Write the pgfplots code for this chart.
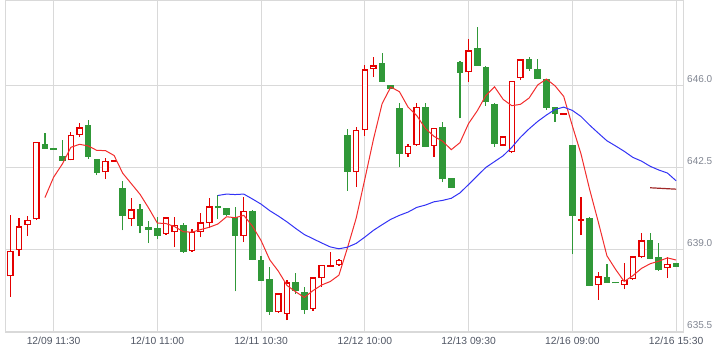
\documentclass[border=0pt]{standalone}
\usepackage{pgfplots}
\pgfplotsset{compat=1.18}
\usepackage{pgfplotstable}
\usepackage{fontspec}
\setmainfont{Liberation Sans}

\definecolor{upred}{RGB}{228,0,0}
\definecolor{dngreen}{RGB}{48,152,56}
\definecolor{mared}{RGB}{242,45,45}
\definecolor{mablue}{RGB}{50,50,245}
\definecolor{madark}{RGB}{160,40,40}
\definecolor{gridc}{RGB}{217,217,217}
\definecolor{ylab}{RGB}{128,133,145}
\definecolor{xlab}{RGB}{80,86,100}

% up candles (close > open): x open high low close
\pgfplotstableread{
x o h l c
0 637.84 640.47 636.97 638.93
1 638.96 640.33 638.70 639.98
2 640.03 640.41 639.56 640.27
3 640.28 643.60 640.26 643.58
7 642.81 644.01 642.80 643.88
8 643.88 644.39 643.79 644.22
11 642.29 642.92 642.01 642.77
12 642.74 642.80 642.74 642.80
14 640.30 641.18 639.98 640.71
18 639.64 640.39 639.62 640.37
19 639.73 640.37 639.09 640.04
21 638.91 639.86 638.90 639.75
22 639.73 640.54 639.51 640.15
23 640.11 641.18 639.91 640.84
27 639.56 641.25 639.31 640.63
31 636.30 637.14 636.28 637.12
32 636.22 637.67 635.97 637.59
35 636.43 637.82 636.36 637.80
36 637.76 638.34 637.39 638.32
37 638.26 638.87 638.26 638.34
38 638.32 638.58 638.30 638.56
40 642.29 644.22 641.68 644.10
41 644.09 646.89 643.86 646.70
42 646.71 647.22 646.36 646.87
46 643.06 643.50 642.95 643.41
47 643.45 645.25 643.43 645.08
49 643.41 644.20 642.96 644.18
53 646.57 647.99 646.15 647.51
57 643.43 643.85 643.41 643.83
58 643.15 646.21 643.13 646.19
59 646.32 647.15 646.23 647.13
64 644.76 644.84 644.76 644.84
66 640.22 641.22 639.60 640.31
68 637.46 638.02 636.83 637.84
71 637.46 638.40 637.29 637.69
72 637.72 638.72 637.70 638.70
73 638.66 639.71 638.64 639.38
76 638.19 638.68 637.76 638.38
}\uptab

% down candles (close < open)
\pgfplotstableread{
x o h l c
4 643.51 643.96 643.28 643.30
5 643.33 643.33 643.26 643.26
6 642.99 643.68 642.77 642.79
9 644.32 644.52 642.88 642.96
10 642.86 642.88 642.17 642.28
13 641.62 641.91 639.81 640.44
15 640.72 640.93 639.68 640.01
16 639.95 640.21 639.26 639.84
17 639.91 640.40 639.43 639.58
20 640.04 640.11 638.85 638.90
24 640.85 641.32 640.30 640.75
25 640.77 640.77 640.43 640.45
26 640.37 640.80 637.20 639.58
28 640.64 640.66 638.53 638.55
29 638.54 638.70 637.64 637.66
30 637.73 638.23 636.19 636.33
33 637.59 637.97 637.10 637.22
34 637.16 637.37 636.22 636.42
39 643.88 644.13 641.51 642.32
43 646.96 647.39 646.15 646.17
44 646.03 646.03 645.87 645.87
45 645.03 645.25 642.53 643.09
48 645.08 645.25 643.37 643.39
50 644.22 644.46 641.87 642.02
51 642.05 642.05 641.64 641.64
52 647.01 647.05 644.60 646.56
54 647.60 648.50 646.84 646.86
55 646.80 646.82 645.14 645.32
56 645.22 645.24 643.39 643.51
60 647.13 647.24 646.63 646.71
61 646.71 647.13 646.28 646.30
62 646.27 646.29 644.96 645.05
63 645.08 645.10 644.46 644.78
65 643.46 643.48 638.79 640.44
67 640.34 640.40 637.44 637.44
69 637.81 638.36 637.57 637.57
70 637.58 637.58 637.54 637.54
74 639.38 639.71 638.58 638.60
75 638.66 639.26 638.08 638.10
77 638.40 638.40 638.26 638.26
}\dntab

\pgfplotsset{candle/.style={draw=none, no markers, forget plot,
  error bars/.cd, y dir=plus, y explicit, error mark=none}}

\begin{document}
\begin{tikzpicture}
\path[use as bounding box] (0,0) rectangle (727bp,358bp);
\begin{axis}[
  at={(5bp,26bp)}, anchor=south west,
  scale only axis, width=678bp, height=331bp,
  xmin=-0.62, xmax=77.8, ymin=635.46, ymax=649.62,
  xtick={5,17,29,41,53,65,77},
  xticklabels={12/09 11:30,12/10 11:00,12/11 10:30,12/12 10:00,12/13 09:30,12/16 09:00,12/16 15:30},
  ytick={635.5,639,642.5,646},
  yticklabel pos=right,
  grid=major,
  major grid style={draw=gridc, line width=1bp},
  axis line style={draw=gridc, line width=1bp},
  major tick length=0pt,
  yticklabel style={font=\fontsize{10bp}{12bp}\selectfont, text=ylab, anchor=south west, inner sep=0pt, xshift=4bp, yshift=2.5bp,
    /pgf/number format/.cd, fixed, fixed zerofill, precision=1, assume math mode=true},
  xticklabel style={font=\fontsize{10.3bp}{12bp}\selectfont, text=xlab, anchor=north, inner sep=0pt, yshift=-4.5bp},
]
% wicks
\addplot[candle, error bar style={draw=upred, line width=1.2bp}]
  table[x=x, y=l, y error plus expr=\thisrow{h}-\thisrow{l}] {\uptab};
\addplot[candle, error bar style={draw=dngreen, line width=1.2bp}]
  table[x=x, y=l, y error plus expr=\thisrow{h}-\thisrow{l}] {\dntab};
% bodies
\addplot[candle, error bar style={draw=upred, line width=6.6bp}]
  table[x=x, y=o, y error plus expr=\thisrow{c}-\thisrow{o}] {\uptab};
\addplot[candle, error bar style={draw=white, line width=4.0bp}]
  table[x=x, y expr=\thisrow{o}+0.056, y error plus expr={max(\thisrow{c}-\thisrow{o}-0.112,0)}] {\uptab};
\addplot[candle, error bar style={draw=dngreen, line width=6.6bp}]
  table[x=x, y=c, y error plus expr=\thisrow{o}-\thisrow{c}] {\dntab};
% moving averages
\addplot[mared, line width=1bp] coordinates {
(4,641.21)(5,642.08)(6,642.64)(7,643.36)(8,643.49)(9,643.42)(10,643.23)(11,643.22)(12,643.01)(13,642.25)(14,641.80)(15,641.35)(16,640.76)(17,640.12)(18,640.10)(19,639.97)(20,639.75)(21,639.73)(22,639.84)(23,639.94)(24,640.08)(25,640.39)(26,640.35)(27,640.45)(28,639.99)(29,639.37)(30,638.55)(31,638.06)(32,637.45)(33,637.18)(34,636.94)(35,637.23)(36,637.47)(37,637.62)(38,637.89)(39,639.07)(40,640.33)(41,642.00)(42,643.71)(43,645.23)(44,645.94)(45,645.74)(46,645.08)(47,644.72)(48,644.17)(49,643.83)(50,643.62)(51,643.26)(52,643.56)(53,644.38)(54,644.92)(55,645.58)(56,645.95)(57,645.41)(58,645.14)(59,645.20)(60,645.47)(61,646.03)(62,646.28)(63,645.99)(64,645.54)(65,644.28)(66,643.08)(67,641.56)(68,640.17)(69,638.72)(70,638.14)(71,637.62)(72,637.87)(73,638.18)(74,638.38)(75,638.49)(76,638.63)(77,638.54)
};
\addplot[mablue, line width=1bp] coordinates {
(24,641.30)(25,641.36)(26,641.34)(27,641.36)(28,641.15)(29,640.93)(30,640.65)(31,640.42)(32,640.17)(33,639.89)(34,639.63)(35,639.45)(36,639.27)(37,639.10)(38,639.02)(39,639.09)(40,639.25)(41,639.52)(42,639.81)(43,640.05)(44,640.28)(45,640.45)(46,640.59)(47,640.79)(48,640.89)(49,641.03)(50,641.09)(51,641.18)(52,641.41)(53,641.77)(54,642.14)(55,642.50)(56,642.75)(57,643.00)(58,643.36)(59,643.79)(60,644.15)(61,644.47)(62,644.74)(63,644.98)(64,645.08)(65,644.94)(66,644.68)(67,644.31)(68,643.97)(69,643.64)(70,643.42)(71,643.19)(72,642.93)(73,642.77)(74,642.55)(75,642.39)(76,642.26)(77,641.93)
};
\addplot[madark, line width=1.2bp] coordinates {
(74,641.63)(75,641.61)(76,641.59)(77,641.57)
};
\end{axis}
\end{tikzpicture}
\end{document}
